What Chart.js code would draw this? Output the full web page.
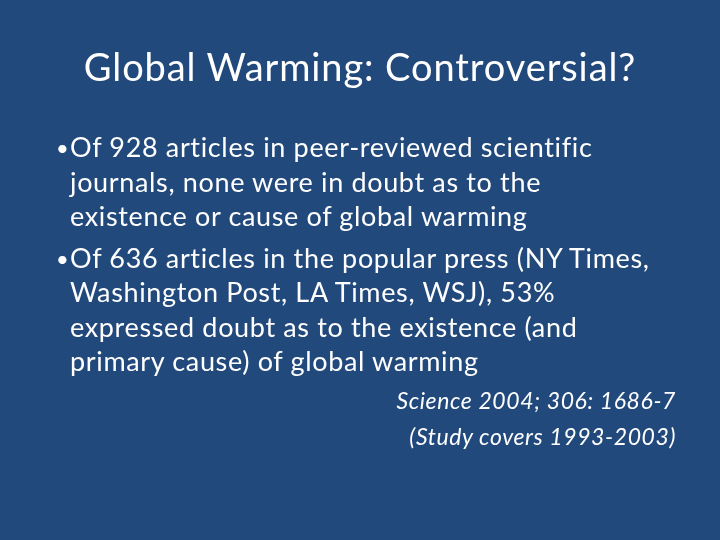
<!DOCTYPE html>
<html>
<head>
<meta charset="utf-8">
<script src="https://cdn.jsdelivr.net/npm/chart.js@4"></script>
<style>
  html, body { margin:0; padding:0; }
  #slide { position:relative; width:720px; height:540px; overflow:hidden; font-family:Lato, "Open Sans", sans-serif; color:#fff; }
  #cnv { position:absolute; left:0; top:0; }
  .t { position:absolute; white-space:nowrap; line-height:1; }
  #title { left:0; width:720px; text-align:center; top:47px; font-size:38px; letter-spacing:0.9px; }
  .line { font-size:27px; left:70px; letter-spacing:0.65px; }
  .bul { position:absolute; left:56px; font-size:22px; }
  .cite { font-size:23px; font-style:italic; right:44px; letter-spacing:0.6px; }
</style>
</head>
<body>
<div id="slide">
  <canvas id="cnv" width="720" height="540"></canvas>
  <div id="title" class="t">Global Warming: Controversial?</div>
  <div id="body"></div>
</div>
<script>
(function(){
    var titleText = 'Global Warming: Controversial?';
    var bullets = [
        ['Of 928 articles in peer-reviewed scientific',
         'journals, none were in doubt as to the',
         'existence or cause of global warming'],
        ['Of 636 articles in the popular press (NY Times,',
         'Washington Post, LA Times, WSJ), 53%',
         'expressed doubt as to the existence (and',
         'primary cause) of global warming']
    ];
    var citation = ['Science 2004; 306: 1686-7', '(Study covers 1993-2003)'];

    //background drawn through chart.js
    var bgPlugin = {
        id: 'bg',
        beforeDraw: function(chart){
            var ctx = chart.ctx;
            ctx.save();
            ctx.fillStyle = '#22497c';
            ctx.fillRect(0, 0, chart.width, chart.height);
            ctx.restore();
        }
    };
    new Chart(document.getElementById('cnv'), {
        type: 'bar',
        data: { labels: [], datasets: [] },
        options: {
            responsive: false, animation: false,
            plugins: { legend: { display: false }, tooltip: { enabled: false } },
            scales: { x: { display: false }, y: { display: false } }
        },
        plugins: [bgPlugin]
    });

    document.getElementById('title').textContent = titleText;
    var body = document.getElementById('body');
    var tops = [[133, 168, 202], [244, 278, 313, 347]];
    bullets.forEach(function(lines, i){
        var b = document.createElement('div');
        b.className = 't bul';
        b.style.top = (tops[i][0] + 4) + 'px';
        b.textContent = '\u2022';
        body.appendChild(b);
        lines.forEach(function(s, j){
            var d = document.createElement('div');
            d.className = 't line';
            d.style.top = tops[i][j] + 'px';
            d.textContent = s;
            body.appendChild(d);
        });
    });
    [389, 425].forEach(function(top, i){
        var d = document.createElement('div');
        d.className = 't cite';
        d.style.top = top + 'px';
        d.textContent = citation[i];
        body.appendChild(d);
    });
})();
</script>
</body>
</html>
